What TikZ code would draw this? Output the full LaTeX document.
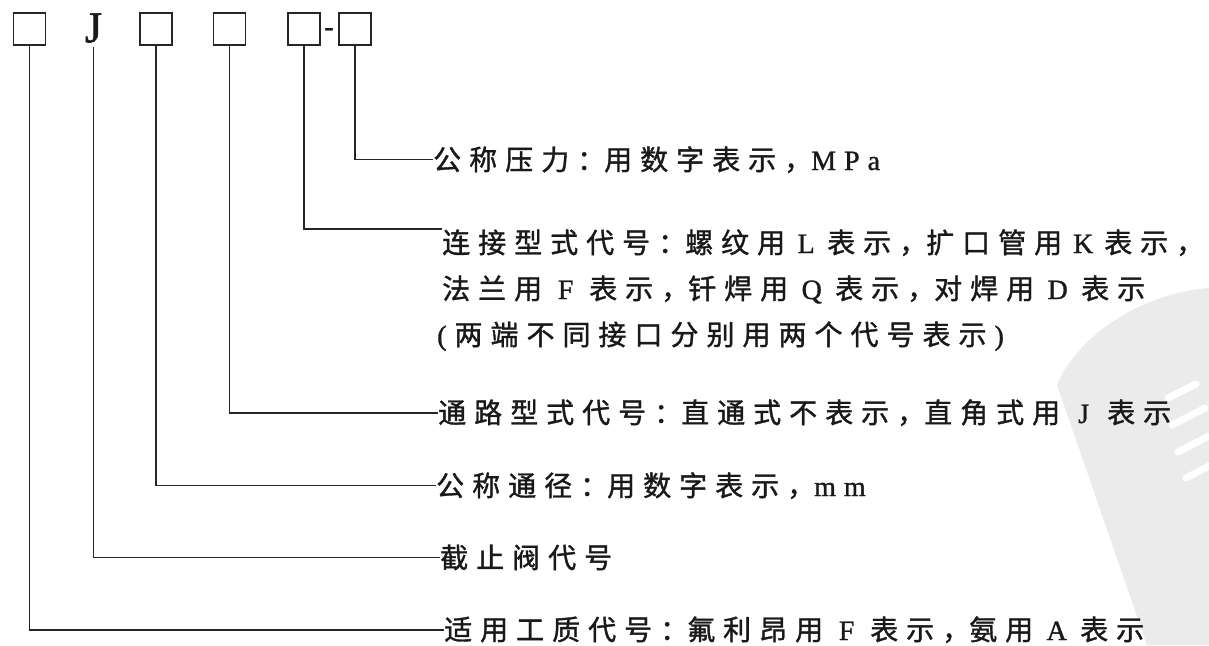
\documentclass[tikz,border=0pt]{standalone}
\usepackage{fontspec}
\newfontfamily\cjk[FakeBold=1.2]{Noto Sans CJK SC}
\newfontfamily\lat[FakeBold=1.2]{Liberation Serif}
\newlength\trksp
\setlength\trksp{8pt}
\newcommand\latin[1]{{\lat #1}}
\newcommand\latbox[1]{\makebox[31pt][c]{\lat #1}}
\newcommand\latboxn[1]{\makebox[26pt][c]{\lat #1}}
\newcommand\zcolon{{\cjk ：}\hspace{-9pt}}
\newcommand\zcomma{{\cjk ，}\hspace{-9pt}}
\def\trk#1{\ifx\relax#1\else#1\hspace{\trksp}\expandafter\trk\fi}
\tikzset{
  codebox/.style={draw=black!85, line width=1.8pt, minimum size=32pt, inner sep=0pt},
  lbl/.style={anchor=base west, inner sep=0pt, text=black!90, font=\cjk\fontsize{28}{28}\selectfont},
  conn/.style={draw=black!85, line width=1.6pt}
}
\begin{document}
\begin{tikzpicture}[x=1pt,y=-1pt]
\useasboundingbox[fill=white] (0,0) rectangle (1209,645);
% faint watermark
\fill[black!8] (1209,288) .. controls (1150,292) and (1080,330) .. (1057,385) -- (1147,645) -- (1209,645) -- cycle;
\begin{scope}[white, line width=7pt, line cap=round]
\draw (1168,398) -- (1196,384);
\draw (1172,425) -- (1205,408);
\draw (1178,452) -- (1209,436);
\draw (1186,478) -- (1209,466);
\end{scope}
% code row
\node[codebox] (b1) at (29.5,29) {};
\node[inner xsep=0pt, inner ysep=4pt, text=black!90, font=\lat\fontsize{44}{44}\selectfont] (j) at (93.5,28) {J};
\node[codebox] (b2) at (156,29) {};
\node[codebox] (b3) at (229.5,29) {};
\node[codebox] (b4) at (304,29) {};
\node[inner sep=0pt, text=black!90, font=\lat\fontsize{28}{28}\selectfont] (d) at (329,32) {-};
\node[codebox] (b5) at (355,29) {};
% labels
\node[lbl] (t1) at (433,170) {\trk 公称压力\zcolon 用数字表示\zcomma{\latin M}{\latin P}{\latin a}\relax};
\node[lbl] (t2) at (442,253) {\trk 连接型式代号\zcolon 螺纹用{\latboxn L}表示\zcomma 扩口管用{\latboxn K}表示\zcomma\relax\hspace{-19pt}};
\node[lbl] (t3) at (442,299) {\trk 法兰用{\latbox F}表示\zcomma 钎焊用{\latbox Q}表示\zcomma 对焊用{\latbox D}表示\relax};
\node[lbl] (t4) at (437,345) {\trk {\latin (}两端不同接口分别用两个代号表示{\latin )}\relax};
\node[lbl] (t5) at (438,423) {\trk 通路型式代号\zcolon 直通式不表示\zcomma 直角式用{\latbox J}表示\relax};
\node[lbl] (t6) at (436,496) {\trk 公称通径\zcolon 用数字表示\zcomma{\latin m}{\latin m}\relax};
\node[lbl] (t7) at (440,568) {\trk 截止阀代号\relax};
\node[lbl] (t8) at (444,640) {\trk 适用工质代号\zcolon 氟利昂用{\latbox F}表示\zcomma 氨用{\latbox A}表示\relax};
% connectors
\draw[conn] (b5.south) |- (t1.west);
\draw[conn] (b4.south) |- (t2.north west);
\draw[conn] (b3.south) |- (t5.west);
\draw[conn] (b2.south) |- (t6.west);
\draw[conn] (j.south) |- (t7.west);
\draw[conn] (b1.south) |- (t8.west);
\end{tikzpicture}
\end{document}
